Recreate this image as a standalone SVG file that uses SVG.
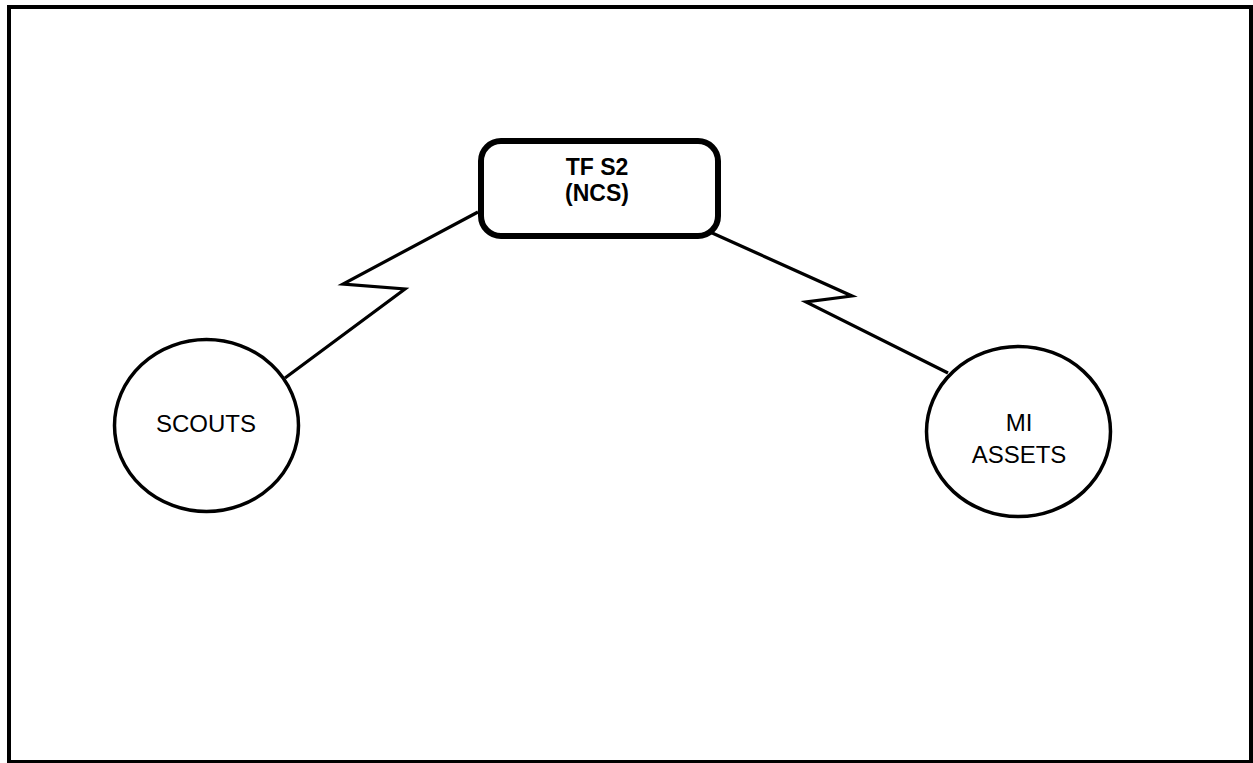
<svg xmlns="http://www.w3.org/2000/svg" width="1253" height="763" viewBox="0 0 1253 763">
<style>
.frame{fill:none;stroke:#000;stroke-width:4}
.node{fill:#fff;stroke:#000;stroke-width:3.5}
.box{fill:#fff;stroke:#000;stroke-width:6}
.link{fill:none;stroke:#000;stroke-width:3.2;stroke-linejoin:miter}
.lbl{font-family:"Liberation Sans",Arial,sans-serif;font-size:24px;fill:#000;text-anchor:middle}
.bold{font-weight:bold;font-size:23px}
</style>
<rect width="1253" height="763" fill="#fff"/>
<rect class="frame" x="9" y="7" width="1242" height="755"/>
<g id="connectors">
<polyline class="link" points="478,212 343,284 405,289 285,378"/>
<polyline class="link" points="710,232 852,296 806,302 948,373"/>
</g>
<g id="tfs2">
<rect class="box" x="481" y="141" width="237" height="95" rx="20"/>
<text class="lbl bold" x="597" y="175">TF S2</text>
<text class="lbl bold" x="597" y="201">(NCS)</text>
</g>
<g id="scouts">
<ellipse class="node" cx="206.5" cy="425.5" rx="92" ry="86"/>
<text class="lbl" x="206" y="432">SCOUTS</text>
</g>
<g id="mi-assets">
<ellipse class="node" cx="1018.5" cy="431.5" rx="92" ry="85"/>
<text class="lbl" x="1019" y="431">MI</text>
<text class="lbl" x="1019" y="463">ASSETS</text>
</g>
</svg>
